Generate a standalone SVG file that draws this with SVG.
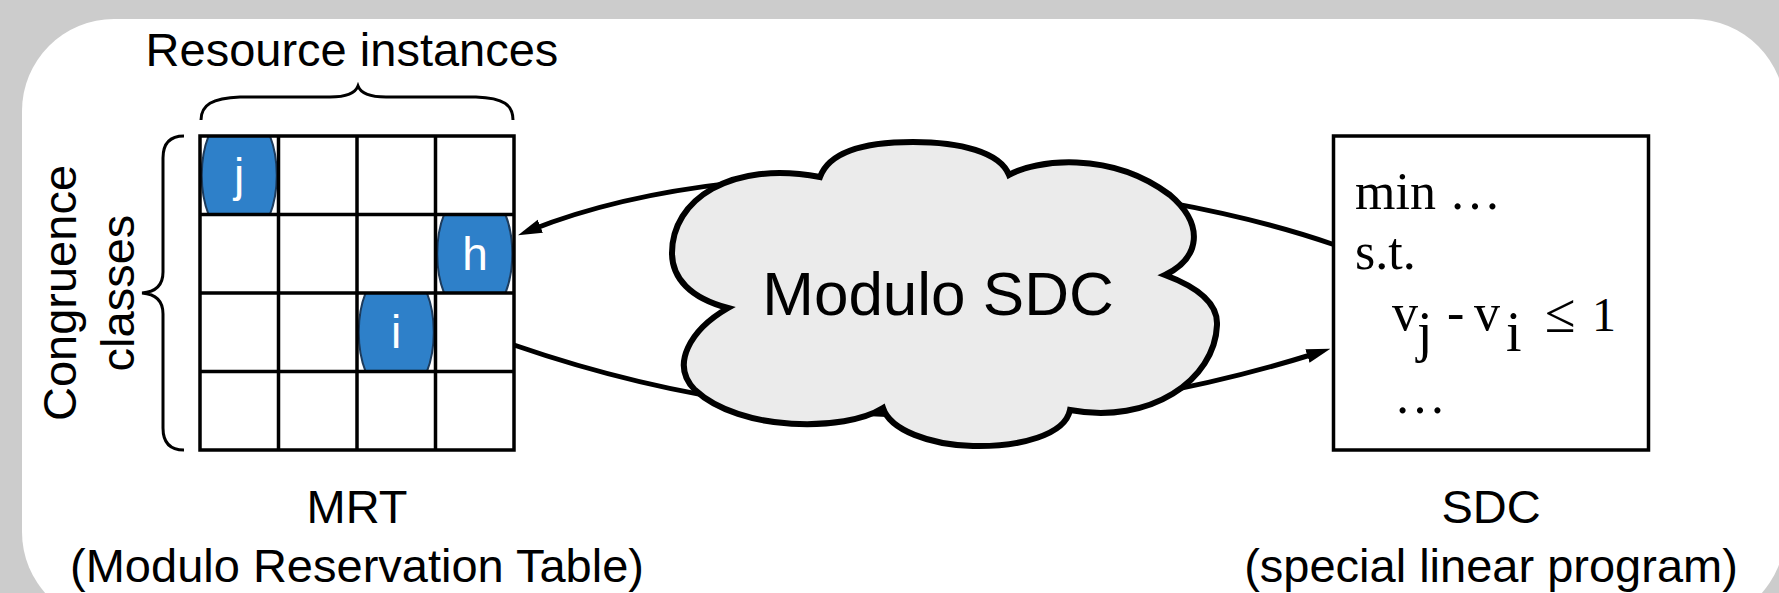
<svg xmlns="http://www.w3.org/2000/svg" width="1779" height="593" viewBox="0 0 1779 593">
<style>
.sans{font-family:"Liberation Sans",Arial,sans-serif;fill:#000}
.serif{font-family:"Liberation Serif","Times New Roman",serif;fill:#000}
.lbl{font-size:47px;text-anchor:middle}
.grid{fill:none;stroke:#000;stroke-width:3.5}
.brace{fill:none;stroke:#000;stroke-width:3}
.oval{fill:#2e80c9;stroke:#1d3b5c;stroke-width:2}
.olet{font-family:"Liberation Sans",Arial,sans-serif;font-size:46px;fill:#fff;text-anchor:middle}
.conn{fill:none;stroke:#000;stroke-width:5}
</style>
<defs>
<marker id="arr" viewBox="0 0 24 16" refX="10" refY="8" markerWidth="24" markerHeight="16" markerUnits="userSpaceOnUse" orient="auto">
<path d="M0,1 L24,8 L0,15 z" fill="#000"/>
</marker>
<clipPath id="cj"><rect x="200" y="136" width="78.5" height="78.5"/></clipPath>
<clipPath id="ch"><rect x="435.5" y="214.5" width="78.5" height="78.5"/></clipPath>
<clipPath id="ci"><rect x="357" y="293" width="78.5" height="78.5"/></clipPath>
</defs>
<rect x="0" y="0" width="1779" height="593" fill="#cccccc"/>
<rect x="22" y="19" width="1763" height="605" rx="92" ry="92" fill="#ffffff"/>

<g id="connectors">
<path class="conn" d="M1335,245 C1150,180 770,135 531,230" marker-end="url(#arr)"/>
<path class="conn" d="M514,345 C777,436 1045,438 1317,353" marker-end="url(#arr)"/>
</g>

<g id="mrt">
<rect x="200" y="136" width="314" height="314" fill="#fff"/>
<g clip-path="url(#cj)"><ellipse class="oval" cx="239.25" cy="175.25" rx="37.5" ry="68"/></g>
<g clip-path="url(#ch)"><ellipse class="oval" cx="474.75" cy="253.75" rx="37.5" ry="68"/></g>
<g clip-path="url(#ci)"><ellipse class="oval" cx="396.25" cy="332.25" rx="37.5" ry="68"/></g>
<text class="olet" x="239" y="191">j</text>
<text class="olet" x="475" y="270">h</text>
<text class="olet" x="396" y="348">i</text>
<path class="grid" d="M200,136 H514 V450 H200 Z M278.5,136 V450 M357,136 V450 M435.5,136 V450 M200,214.5 H514 M200,293 H514 M200,371.5 H514"/>
<path class="brace" d="M201,120 C201,105 212,98 240,97 L330,97 C345,97 355,94 358,86 C361,94 371,97 386,97 L476,97 C504,98 513,105 513,120"/>
<path class="brace" d="M184,136 C170,136 163,143 163,158 L163,272 C163,286 155,292 142,293 C155,294 163,300 163,314 L163,428 C163,443 170,450 184,450"/>
<text class="sans lbl" x="352" y="66">Resource instances</text>
<text class="sans lbl" x="76" y="293" transform="rotate(-90 76 293)">Congruence</text>
<text class="sans lbl" x="134" y="293" transform="rotate(-90 134 293)">classes</text>
<text class="sans lbl" x="357" y="523">MRT</text>
<text class="sans lbl" x="357" y="582">(Modulo Reservation Table)</text>
</g>

<g id="cloud">
<path d="M728,308 C690,298 672,278 672,253 C672,200 730,160 820,177 C830,150 870,142 913,142 C960,142 1000,152 1009,175 C1035,160 1110,150 1170,195 C1205,225 1200,258 1165,275 C1200,288 1218,305 1217,325 C1215,380 1150,425 1070,410 C1065,435 1020,447 973,446 C930,445 890,430 883,408 C845,432 740,432 695,390 C670,365 690,330 728,308 Z" fill="#ebebeb" stroke="#000" stroke-width="6" stroke-linejoin="miter"/>
<text class="sans" x="938" y="315" font-size="62" text-anchor="middle">Modulo SDC</text>
</g>

<g id="sdc">
<rect x="1333.5" y="136" width="315" height="314" fill="#fff" stroke="#000" stroke-width="3.5"/>
<text class="serif" x="1355" y="209" font-size="52">min …</text>
<text class="serif" x="1355" y="269" font-size="52">s.t.</text>
<text class="serif" font-size="52"><tspan x="1392" y="330">v</tspan><tspan x="1417" y="351" font-size="56">j</tspan><tspan x="1447" y="330">-</tspan><tspan x="1474" y="330">v</tspan><tspan x="1506" y="351" font-size="56">i</tspan><tspan x="1545" y="332" font-size="56">≤</tspan><tspan x="1592" y="331" font-size="48">1</tspan></text>
<text class="serif" x="1394" y="413" font-size="52">…</text>
<text class="sans lbl" x="1491" y="523">SDC</text>
<text class="sans lbl" x="1491" y="582">(special linear program)</text>
</g>
</svg>
